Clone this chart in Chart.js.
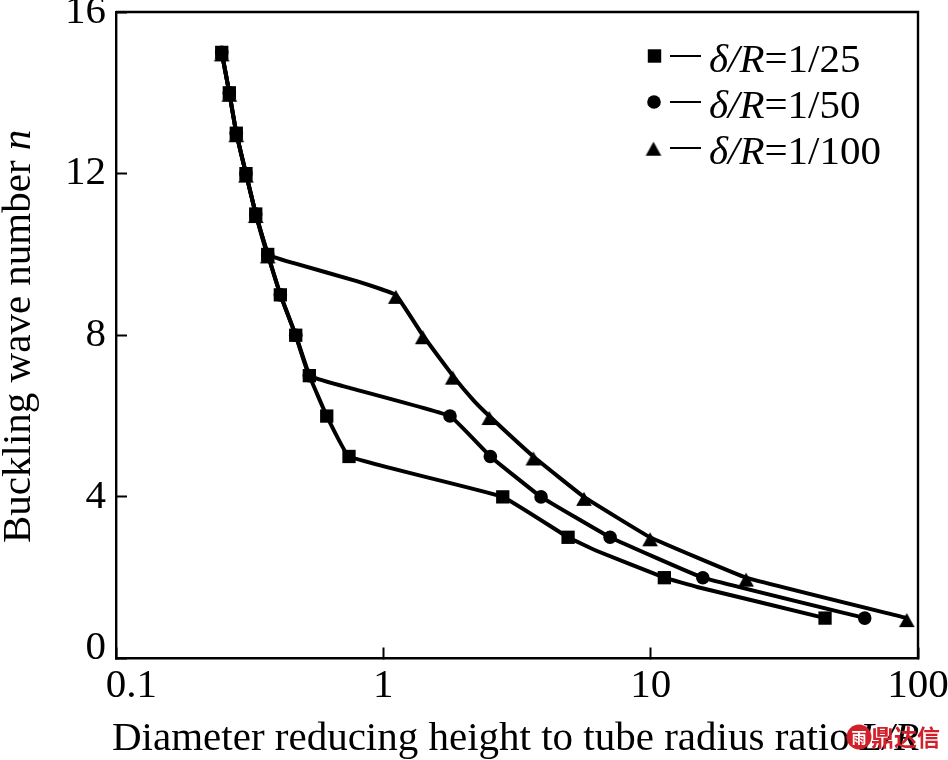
<!DOCTYPE html>
<html>
<head>
<meta charset="utf-8">
<style>html,body{margin:0;padding:0;background:#fff}canvas{display:block}</style>
<script src="https://cdn.jsdelivr.net/npm/chart.js@4/dist/chart.umd.js"></script>
</head>
<body>
<canvas id="c" width="948" height="760"></canvas>
<script>
// Values; non-integer n are unmarked bends of the drawn curves.
const ratio25 = [0.2486,0.2654,0.2818,0.3063,0.3332,0.3694,0.4119,0.4702,0.5287,0.6142,0.744,2.797,4.91,6.30,11.25,14.92,44.9];
const wave25  = [15,14,13,12,11,10,9,8,7,6,5,4,3,2.66,2,1.77,1];
const ratio50 = [0.2486,0.2654,0.2818,0.3063,0.3332,0.3694,0.4119,0.4702,0.5287,0.7064,1.776,2.514,3.89,7.05,15.67,63.2];
const wave50  = [15,14,13,12,11,10,9,8,7,6.74,6,5,4,3,2,1];
const ratio100 = [0.2486,0.2654,0.2818,0.3063,0.3332,0.3694,0.4595,0.795,1.113,1.404,1.818,2.166,2.49,3.64,5.63,9.95,22.75,90.8];
const wave100  = [15,14,13,12,11,10,9.79,9.34,9,8,7,6.4,6,5,4,3,2,1];
const xTicks = [0.1,1,10,100];
const yTicks = [0,4,8,12,16];
const seriesNames = ['δ/R=1/25','δ/R=1/50','δ/R=1/100'];

const SERIF = '"Liberation Serif"';
const FONT_SIZE = 41;
const triangle = document.createElement('canvas');
triangle.width = 24; triangle.height = 24;
(function(){const t=triangle.getContext('2d');t.fillStyle='#000';t.beginPath();t.moveTo(12,7);t.lineTo(19.8,21);t.lineTo(4.2,21);t.closePath();t.fill();})();

const toPoints = (xs,ys)=>xs.map((x,i)=>({x,y:ys[i]}));
const markerRadius = r => ctx => Number.isInteger(ctx.raw.y) ? r : 0;
const line = {borderColor:'#000',backgroundColor:'#000',borderWidth:4,tension:0.08,pointBorderWidth:0,pointHoverRadius:0,clip:false};
const noPad = s => {s.paddingLeft=0;s.paddingRight=0;s.paddingTop=0;s.paddingBottom=0;};

function runs(ctx,parts,x,y){
  let cx=x;
  ctx.textAlign='left';ctx.textBaseline='alphabetic';
  parts.forEach(([txt,it])=>{ctx.font=(it?'italic ':'')+FONT_SIZE+'px '+SERIF;ctx.fillText(txt,cx,y);cx+=ctx.measureText(txt).width;});
}
const annotate = {
  id:'annotate',
  afterDraw(chart){
    const ctx=chart.ctx;
    ctx.save();ctx.fillStyle='#000';
    // y axis title
    ctx.save();ctx.translate(30,543);ctx.rotate(-Math.PI/2);
    runs(ctx,[['Buckling wave number ',0],['n',1]],0,0);ctx.restore();
    // x axis title
    runs(ctx,[['Diameter reducing height to tube radius ratio ',0],['L/R',1]],112,750);
    // legend
    const ys=[56,102,148], bases=[71.7,117.7,164];
    Chart.helpers.drawPoint(ctx,{pointStyle:'rect',radius:9.5,borderWidth:0},654.5,ys[0]);
    Chart.helpers.drawPoint(ctx,{pointStyle:'circle',radius:6.8,borderWidth:0},654,ys[1]);
    Chart.helpers.drawPoint(ctx,{pointStyle:triangle,radius:8,borderWidth:0},653.5,146.7);
    ys.forEach((y,i)=>{
      ctx.fillRect(670,y-1,31,2);
      const [a,b]=[seriesNames[i].slice(0,3),seriesNames[i].slice(3)];
      runs(ctx,[[a,1],[b,0]],709,bases[i]);
    });
    // source watermark
    ctx.fillStyle='#d0212b';
    ctx.beginPath();ctx.arc(859,737,12.5,0,Math.PI*2);ctx.fill();
    ctx.textAlign='center';ctx.textBaseline='middle';
    ctx.fillStyle='#fff';ctx.font='bold 15px "Noto Sans CJK SC"';ctx.fillText('雨',859,737);
    ctx.fillStyle='#d0212b';ctx.font='bold 23px "Noto Sans CJK SC"';ctx.textAlign='left';
    ctx.fillText('鼎达信',871,737);
    ctx.restore();
  }
};

new Chart(document.getElementById('c'),{
  type:'line',
  data:{datasets:[
    {...line,label:seriesNames[0],data:toPoints(ratio25,wave25),pointStyle:'rect',pointRadius:markerRadius(9.4)},
    {...line,label:seriesNames[1],data:toPoints(ratio50,wave50),pointStyle:'circle',pointRadius:markerRadius(6.8)},
    {...line,label:seriesNames[2],data:toPoints(ratio100,wave100),pointStyle:triangle,pointRadius:markerRadius(8)}
  ]},
  options:{
    responsive:false,animation:false,
    layout:{padding:{top:12,right:30,left:0,bottom:0}},
    plugins:{legend:{display:false},tooltip:{enabled:false}},
    scales:{
      x:{type:'logarithmic',min:0.1,max:100,
        afterBuildTicks(s){s.ticks=xTicks.map(value=>({value}));},
        afterFit(s){s.height=101.5;noPad(s);},
        grid:{drawOnChartArea:false,tickLength:-11,tickWidth:2,tickColor:'#000'},
        border:{color:'#000',width:2.4},
        ticks:{autoSkip:false,maxRotation:0,minRotation:0,padding:14,color:'#000',font:{family:SERIF,size:FONT_SIZE},
          callback:v=>v===0.1?'   0.1':String(v)}},
      y:{type:'linear',min:0,max:16,
        afterBuildTicks(s){s.ticks=yTicks.map(value=>({value}));},
        afterFit(s){s.width=116;noPad(s);},
        grid:{drawOnChartArea:false,tickLength:-11,tickWidth:2,tickColor:'#000'},
        border:{color:'#000',width:2.4},
        ticks:{padding:21,color:'#000',font:{family:SERIF,size:FONT_SIZE,lineHeight:0.52},
          callback:v=>v===0?['0','']:String(v)}}
    }
  },
  plugins:[
    {id:'frame',afterDraw(chart){const a=chart.chartArea,c=chart.ctx;c.save();c.strokeStyle='#000';c.lineWidth=2.4;c.beginPath();c.moveTo(a.left,a.top);c.lineTo(a.right,a.top);c.lineTo(a.right,a.bottom);c.stroke();c.restore();}},
    annotate
  ]
});
</script>
</body>
</html>
